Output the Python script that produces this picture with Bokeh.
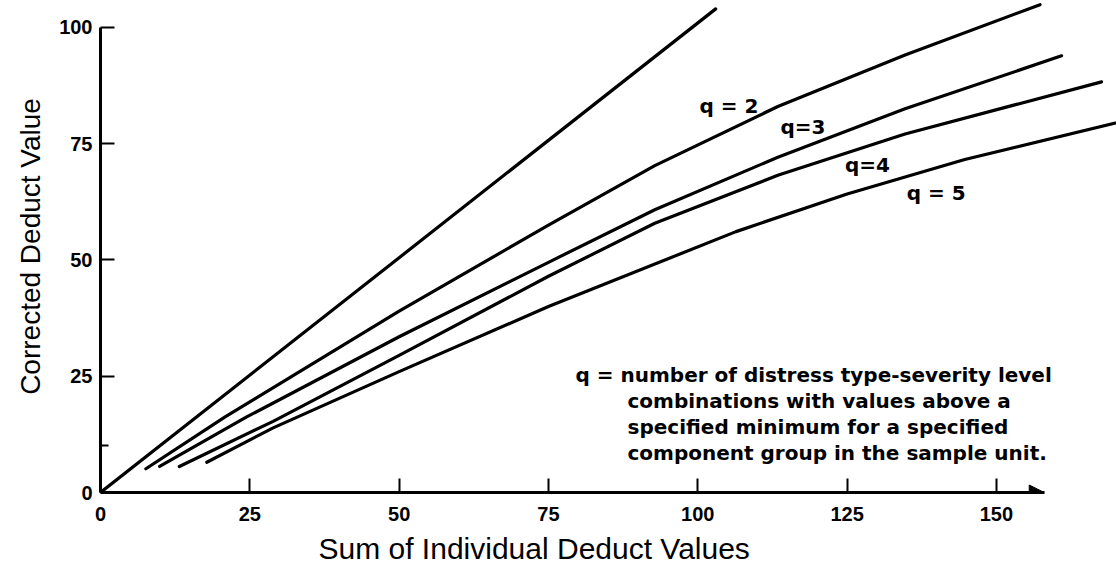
from bokeh.core.properties import value
from bokeh.embed import file_html
from bokeh.models import Arrow, FixedTicker, Label, NormalHead, Range1d, Title
from bokeh.plotting import figure
from bokeh.resources import INLINE

# ---------------------------------------------------------------- data ----
x_ticks = [0, 25, 50, 75, 100, 125, 150]
y_ticks = [0, 25, 50, 75, 100]
y_minor_ticks = [10]

# Sum of individual deduct values (x) -> corrected deduct value (y), per q
q1_x = [0, 103]
q1_y = [0, 104]
q2_x = [7.6, 20.8, 50, 75, 92.8, 113.4, 134.7, 157.3]
q2_y = [5.1, 16.2, 39.0, 57.5, 70.3, 83.0, 94.1, 104.9]
q3_x = [9.9, 24.4, 50, 75, 92.8, 113.4, 134.7, 160.9]
q3_y = [5.6, 16.2, 33.5, 49.5, 60.8, 72.1, 82.5, 93.9]
q4_x = [13.2, 28.9, 50, 75, 92.8, 113.4, 134.7, 167.6]
q4_y = [5.6, 15.3, 29.5, 46.5, 57.9, 68.2, 77.1, 88.3]
q5_x = [17.8, 28.9, 50, 75, 106.4, 125, 144.7, 172.9]
q5_y = [6.5, 13.9, 26.0, 40.0, 56.1, 64.2, 71.6, 80.4]

curve_labels = ["q = 2", "q=3", "q=4", "q = 5"]
curve_label_x = [105.2, 117.6, 128.4, 139.9]
curve_label_y = [83.2, 78.5, 70.5, 64.4]

note_lines = [
    "q = number of distress type-severity level",
    "combinations with values above a",
    "specified minimum for a specified",
    "component group in the sample unit.",
]

x_title = "Sum of Individual Deduct Values"
y_title = "Corrected Deduct Value"

# -------------------------------------------------------------- layout ----
W, H = 1116, 574
LEFT, BOTTOM = 100, 82
X_MAX, Y_MAX = 170.1, 105.8
ARROW_TIP = 158
FRAME_W, FRAME_H = W - LEFT, H - BOTTOM


def dx(px):
    """Canvas pixel column -> x data value."""
    return (px - LEFT) / FRAME_W * X_MAX


def dy(py):
    """Canvas pixel row (from top) -> y data value."""
    return (FRAME_H - py) / FRAME_H * Y_MAX


p = figure(
    width=W, height=H,
    x_range=Range1d(0, X_MAX), y_range=Range1d(0, Y_MAX),
    output_backend="svg", toolbar_location=None,
    min_border_left=LEFT, min_border_bottom=BOTTOM,
    min_border_top=0, min_border_right=0,
)
p.outline_line_color = None
p.grid.visible = False
p.background_fill_color = "white"
p.border_fill_color = "white"

tick_font = "Liberation Sans"

xa = p.xaxis[0]
xa.ticker = FixedTicker(ticks=x_ticks)
xa.bounds = (0, ARROW_TIP)
xa.axis_line_width = 3
xa.axis_line_color = "black"
xa.major_tick_in = 14
xa.major_tick_out = 0
xa.major_tick_line_width = 2
xa.minor_tick_line_color = None
xa.major_label_standoff = 14
xa.major_label_text_font = tick_font
xa.major_label_text_font_size = "20px"
xa.major_label_text_font_style = "bold"
xa.major_label_text_color = "black"

ya = p.yaxis[0]
ya.ticker = FixedTicker(ticks=y_ticks, minor_ticks=y_minor_ticks)
ya.bounds = (0, 100)
ya.axis_line_width = 3
ya.axis_line_color = "black"
ya.major_tick_in = 14
ya.major_tick_out = 0
ya.major_tick_line_width = 2
ya.minor_tick_in = 8
ya.minor_tick_out = 0
ya.minor_tick_line_width = 2
ya.minor_tick_line_color = "black"
ya.major_label_standoff = 8
ya.major_label_text_font = tick_font
ya.major_label_text_font_size = "20px"
ya.major_label_text_font_style = "bold"
ya.major_label_text_color = "black"

# axis titles
p.add_layout(Title(
    text=y_title, align="center", offset=-14, standoff=21,
    text_font="Liberation Sans", text_font_size="28px",
    text_font_style="normal", text_color="black",
), "left")
p.add_layout(Title(
    text=x_title, align="left", offset=218, standoff=12,
    text_font="Liberation Sans", text_font_size="30px",
    text_font_style="normal", text_color="black",
), "below")

# arrow head closing the x axis
p.add_layout(Arrow(
    end=NormalHead(size=15, fill_color="black", line_color="black"),
    x_start=ARROW_TIP - 8, y_start=0, x_end=ARROW_TIP, y_end=0,
    line_color=None,
))

# curves
for xs, ys in [(q1_x, q1_y), (q2_x, q2_y), (q3_x, q3_y), (q4_x, q4_y), (q5_x, q5_y)]:
    p.line(xs, ys, line_width=3.2, line_color="black", line_join="round", line_cap="round")

p.text(
    x=curve_label_x, y=curve_label_y, text=curve_labels,
    text_font=value("DejaVu Sans"), text_font_size="20px", text_font_style="bold",
    text_align="center", text_baseline="middle", text_color="black",
)

# explanatory note
note_x = [575, 627, 627, 627]
note_y = [374, 400, 426, 452]
for line, nx, ny in zip(note_lines, note_x, note_y):
    p.add_layout(Label(
        x=dx(nx), y=dy(ny), text=line,
        text_font="DejaVu Sans", text_font_size="20px", text_font_style="bold",
        text_align="left", text_baseline="middle", text_color="black",
    ))

open("out.html", "w").write(file_html(p, INLINE))
